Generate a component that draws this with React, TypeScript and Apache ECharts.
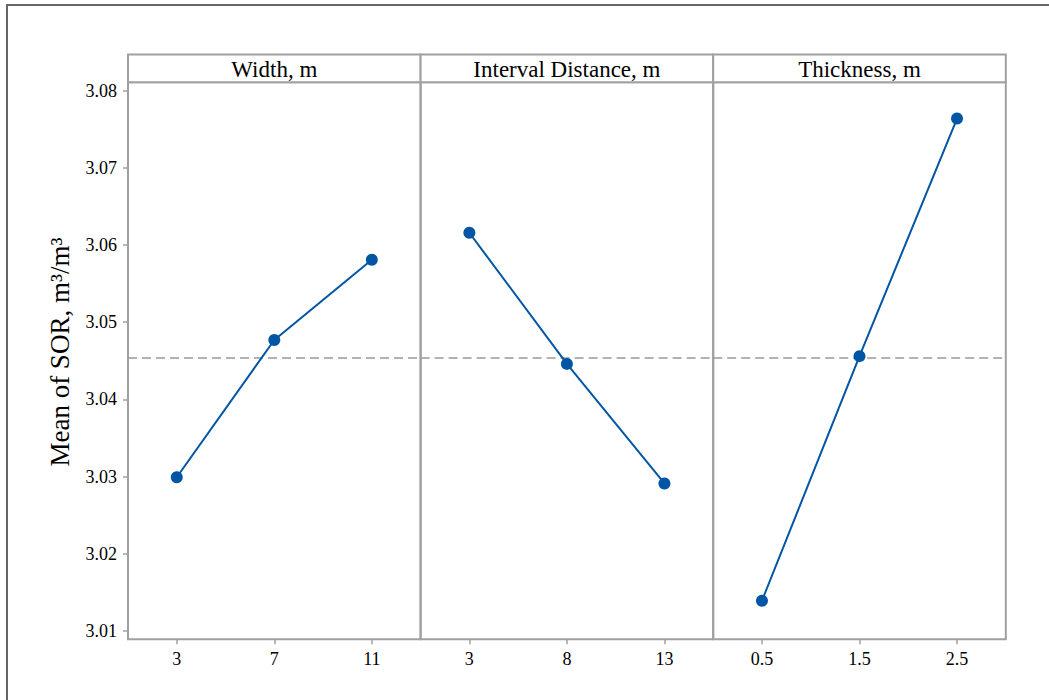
import React, { useEffect, useRef } from "react";
import * as echarts from "echarts";

// ---- Data ----
const factorNames = ["Width, m", "Interval Distance, m", "Thickness, m"];
const widthLevels = ["3", "7", "11"];
const intervalLevels = ["3", "8", "13"];
const thicknessLevels = ["0.5", "1.5", "2.5"];
const widthMeans = [3.0299, 3.0477, 3.0581];
const intervalMeans = [3.0616, 3.0446, 3.0291];
const thicknessMeans = [3.0139, 3.0456, 3.0764];
const grandMean = 3.0454;
const yTicks = [3.01, 3.02, 3.03, 3.04, 3.05, 3.06, 3.07, 3.08];
const yTitle = "Mean of SOR, m³/m³";

const levels = [widthLevels, intervalLevels, thicknessLevels];
const means = [widthMeans, intervalMeans, thicknessMeans];

// ---- Layout ----
const W = 1049;
const H = 700;
const PANEL_LEFT = 128;
const PANEL_W = 292.6;
const PANEL_TOP = 82.3;
const PANEL_BOTTOM = 639.3;
const HEADER_TOP = 54.5;
const Y_MIN = 3.0089;
const Y_MAX = 3.0811;
const GRAY = "#a0a0a0";
const BLUE = "#0055a5";
const FONT = "Liberation Serif";

export default function App() {
  const ref = useRef<HTMLDivElement>(null);

  useEffect(() => {
    if (!ref.current) return;
    const chart = echarts.init(ref.current, undefined, { renderer: "svg" });

    const grids: any[] = [];
    const xAxes: any[] = [];
    const yAxes: any[] = [];
    const series: any[] = [];
    const graphics: any[] = [];

    // outer frame
    graphics.push({
      type: "rect",
      shape: { x: 7, y: 5, width: 1200, height: 900 },
      style: { fill: "none", stroke: "#666", lineWidth: 2 },
      silent: true,
      z: 0,
    });

    for (let i = 0; i < 3; i++) {
      const left = PANEL_LEFT + i * PANEL_W;
      grids.push({
        left,
        width: PANEL_W,
        top: PANEL_TOP,
        height: PANEL_BOTTOM - PANEL_TOP,
        show: true,
        borderColor: GRAY,
        borderWidth: 2,
        backgroundColor: "transparent",
        containLabel: false,
      });
      xAxes.push({
        type: "category",
        gridIndex: i,
        data: levels[i],
        boundaryGap: true,
        axisLine: { show: false, onZero: false },
        axisTick: {
          show: true,
          alignWithLabel: true,
          length: 5,
          lineStyle: { color: GRAY, width: 1.5 },
        },
        axisLabel: {
          color: "#000",
          fontFamily: FONT,
          fontSize: 18,
          margin: 11,
        },
        splitLine: { show: false },
      });
      yAxes.push({
        type: "value",
        gridIndex: i,
        min: Y_MIN,
        max: Y_MAX,
        show: i === 0,
        axisLine: { show: false },
        axisTick: {
          show: i === 0,
          length: 5,
          customValues: yTicks,
          lineStyle: { color: GRAY, width: 1.5 },
        },
        axisLabel: {
          show: i === 0,
          customValues: yTicks,
          color: "#000",
          fontFamily: FONT,
          fontSize: 18,
          margin: 11,
          formatter: (v: number) => v.toFixed(2),
        },
        splitLine: { show: false },
      });
      series.push({
        type: "line",
        xAxisIndex: i,
        yAxisIndex: i,
        data: means[i],
        symbol: "circle",
        symbolSize: 12,
        lineStyle: { color: BLUE, width: 2 },
        itemStyle: { color: BLUE },
        z: 3,
        markLine: {
          silent: true,
          precision: 4,
          symbol: ["none", "none"],
          label: { show: false },
          lineStyle: { color: "#999", type: [9, 5], width: 1.6 },
          data: [{ yAxis: grandMean }],
          z: 2,
        },
      });

      // header box
      graphics.push({
        type: "rect",
        shape: { x: left, y: HEADER_TOP, width: PANEL_W, height: PANEL_TOP - HEADER_TOP },
        style: { fill: "#fff", stroke: GRAY, lineWidth: 2 },
        silent: true,
        z: 1,
      });
      graphics.push({
        type: "text",
        x: left + PANEL_W / 2,
        y: (HEADER_TOP + PANEL_TOP) / 2 + 1,
        style: {
          text: factorNames[i],
          fontFamily: FONT,
          fontSize: 23,
          fill: "#000",
          textAlign: "center",
          textVerticalAlign: "middle",
        },
        silent: true,
        z: 2,
      });
    }

    graphics.push({
      type: "text",
      x: 60,
      y: 352,
      rotation: Math.PI / 2,
      style: {
        text: yTitle,
        fontFamily: FONT,
        fontSize: 27,
        fill: "#000",
        textAlign: "center",
        textVerticalAlign: "middle",
      },
      silent: true,
      z: 2,
    });

    chart.setOption({
      animation: false,
      backgroundColor: "#fff",
      textStyle: { fontFamily: FONT },
      grid: grids,
      xAxis: xAxes,
      yAxis: yAxes,
      series,
      graphic: graphics,
    });

    return () => chart.dispose();
  }, []);

  return (
    <div
      ref={ref}
      style={{ position: "fixed", left: 0, top: 0, width: W, height: H }}
    />
  );
}
